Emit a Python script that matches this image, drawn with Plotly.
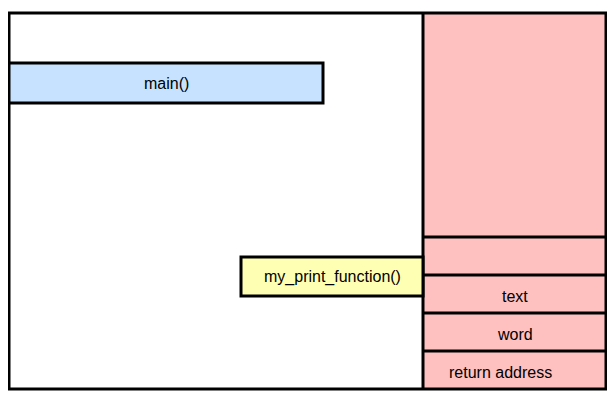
import plotly.graph_objects as go

# stack frame rows (top to bottom), edges in pixel units
stack_labels = ["", "", "text", "word", "return address"]
stack_edges = [13, 237, 275, 313, 351, 389]
stack_left, stack_right = 423, 606

# function boxes: label, x0, x1, y0, y1, colour
funcs = ["main()", "my_print_function()"]
func_x0 = [9, 241]
func_x1 = [323, 423]
func_y0 = [63, 257]
func_y1 = [103, 296]
func_colors = ["#c6e2fe", "#ffffb3"]

outer = (9, 606, 13, 389)
off = 8  # page body margin

fig = go.Figure()
shapes = []
annotations = []
line = dict(color="black", width=3)
font = dict(family="Liberation Sans", size=16, color="black")

shapes.append(dict(type="rect", x0=stack_left, x1=stack_right, y0=stack_edges[0], y1=stack_edges[-1],
                   fillcolor="#ffc0c0", line=dict(width=0), layer="below"))
for y in stack_edges[1:-1]:
    shapes.append(dict(type="line", x0=stack_left, x1=stack_right, y0=y, y1=y, line=line))
shapes.append(dict(type="line", x0=stack_left, x1=stack_left, y0=outer[2], y1=outer[3], line=line))
shapes.append(dict(type="rect", x0=outer[0], x1=outer[1], y0=outer[2], y1=outer[3], line=line))

for lab, x0, x1, y0, y1, c in zip(funcs, func_x0, func_x1, func_y0, func_y1, func_colors):
    shapes.append(dict(type="rect", x0=x0, x1=x1, y0=y0, y1=y1, fillcolor=c, line=line))
    annotations.append(dict(x=(x0 + x1) / 2, y=(y0 + y1) / 2, text=lab, showarrow=False, font=font))

for lab, a, b in zip(stack_labels, stack_edges[:-1], stack_edges[1:]):
    if lab:
        dx = -14 if lab == "return address" else 0
        annotations.append(dict(x=(stack_left + stack_right) / 2 + dx, y=(a + b) / 2 + 2,
                                text=lab, showarrow=False, font=font))

fig.add_trace(go.Scatter(x=[], y=[]))

fig.update_layout(
    width=615, height=401, margin=dict(l=0, r=0, t=0, b=0),
    plot_bgcolor="white", paper_bgcolor="white", showlegend=False,
    shapes=shapes, annotations=annotations,
    xaxis=dict(range=[off, 615 + off], visible=False, fixedrange=True),
    yaxis=dict(range=[401 + off, off], visible=False, fixedrange=True),
)
fig.write_html("out.html")
